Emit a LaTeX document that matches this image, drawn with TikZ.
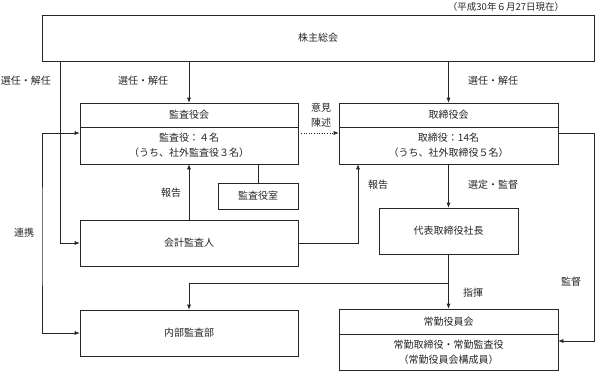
\documentclass[tikz,border=0pt]{standalone}
\usepackage{fontspec}
\setmainfont{Noto Sans CJK JP}
\usetikzlibrary{arrows.meta}

\begin{document}
\begin{tikzpicture}[x=1pt, y=-1pt,
        font=\fontsize{10}{15}\selectfont,
        >={Latex[length=5pt,width=4pt]},
        color=black!85, line width=0.6pt,
        box/.style={draw, rectangle, inner sep=0pt, align=center},
        lbl/.style={inner sep=1pt, align=center}]
        \useasboundingbox (0,0) rectangle (596,372);

        % Date
        \node[lbl, font=\fontsize{9.5}{11}\selectfont] (date) at (506,7) {（平成30年６月27日現在）};

        % Boxes
        \node[box, minimum width=552pt, minimum height=46pt] (soukai) at (318,38) {株主総会};
        \node[box, minimum width=218pt, minimum height=24pt] (kansa) at (189,115) {監査役会};
        \node[box, minimum width=218pt, minimum height=37pt] (kansab) at (189,145.5) {監査役：４名\\（うち、社外監査役３名）};
        \node[box, minimum width=219pt, minimum height=24pt] (torishimari) at (448.5,115) {取締役会};
        \node[box, minimum width=219pt, minimum height=37pt] (torib) at (448.5,145.5) {取締役：14名\\（うち、社外取締役５名）};
        \node[box, minimum width=80pt, minimum height=26pt] (shitsu) at (258,196) {監査役室};
        \node[box, minimum width=218pt, minimum height=46pt] (kaikei) at (189,243) {会計監査人};
        \node[box, minimum width=139pt, minimum height=46pt] (daihyo) at (448.5,231) {代表取締役社長};
        \node[box, minimum width=218pt, minimum height=46pt] (naibu) at (189,333) {内部監査部};
        \node[box, minimum width=219pt, minimum height=25pt] (joukin) at (448.5,321.5) {常勤役員会};
        \node[box, minimum width=219pt, minimum height=36pt] (joukinb) at (448.5,352) {常勤取締役・常勤監査役\\（常勤役員会構成員）};

        % Connectors
        \coordinate (rk) at (42,240);
        \coordinate (br) at (448.5,283);
        \coordinate (kt) at (594,240);
        \draw[->] ([xshift=19pt]soukai.south west) |- (kaikei.west);
        \draw[->] (soukai.south -| kansa.north) -- (kansa.north);
        \draw[->] (soukai.south -| torishimari.north) -- (torishimari.north);
        \draw[<->] ([yshift=12.5pt]kansab.west) -| (rk) |- (naibu.west);
        \draw[->, dotted] ([yshift=12.5pt]kansab.east) -- ([yshift=12.5pt]torib.west);
        \draw (kansab.south -| shitsu.north) -- (shitsu.north);
        \draw[->] (kaikei.north) -- (kansab.south);
        \draw[->] (kaikei.east) -| ([xshift=-90.5pt]torib.south);
        \draw[->] (torib.south) -- (daihyo.north);
        \draw[->] (daihyo.south) -- (joukin.north);
        \draw[->] (br) -| (naibu.north);
        \draw[->] ([yshift=12.5pt]torib.east) -| (kt) |- ([yshift=11pt]joukinb.east);

        % Labels
        \node[lbl] (l1) at (26,81) {選任・解任};
        \node[lbl] (l2) at (143,81) {選任・解任};
        \node[lbl] (l3) at (493,81) {選任・解任};
        \node[lbl] (l4) at (321,115) {意見\\陳述};
        \node[lbl] (l5) at (24,233) {連携};
        \node[lbl] (l6) at (171,193) {報告};
        \node[lbl] (l7) at (378,185) {報告};
        \node[lbl] (l8) at (493,185) {選定・監督};
        \node[lbl] (l9) at (473,293) {指揮};
        \node[lbl] (l10) at (571,282) {監督};
    \end{tikzpicture}
\end{document}
